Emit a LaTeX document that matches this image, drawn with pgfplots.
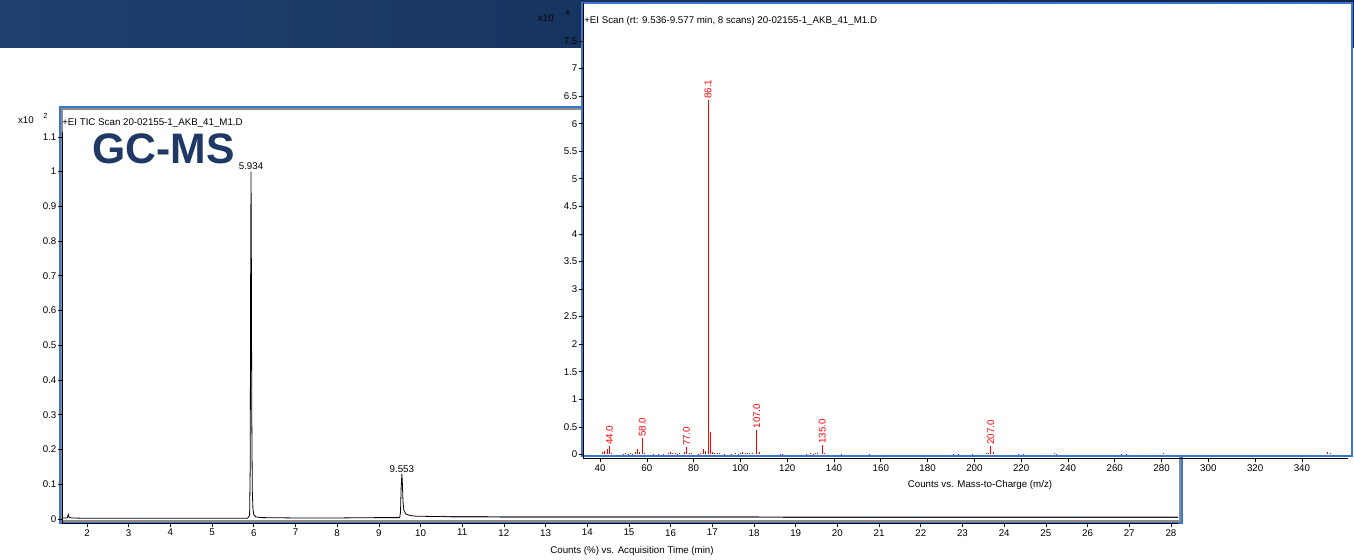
\documentclass[border=0pt]{standalone}
\usepackage{fontspec}
\setmainfont{Liberation Sans}
\usepackage{pgfplots}
\pgfplotsset{compat=1.18}
\definecolor{framebl}{RGB}{58,118,206}
\definecolor{navy}{RGB}{31,56,100}
\definecolor{banL}{RGB}{30,64,112}
\definecolor{banR}{RGB}{14,38,76}
\definecolor{shadowgray}{RGB}{140,140,140}
\newcommand{\smallfont}{\fontsize{7.3}{8.5}\selectfont}

\begin{document}
\begin{tikzpicture}
\useasboundingbox (0,0) rectangle (1015.5pt,420pt);
\fill[white] (0,0) rectangle (1015.5pt,420pt);

% slide banner and chromatogram frame (pixel-style coordinates, y downwards)
\begin{scope}[x=0.75pt,y=-0.75pt,yshift=420pt]
  \shade[left color=banL,right color=banR] (0,0) rectangle (1354,48);
  \draw[shadowgray, line width=1pt] (62,109) rectangle (1180,521);
  \draw[framebl, line width=2pt] (60,107) rectangle (1182,523);
\end{scope}

% total ion chromatogram
\begin{axis}[
  at={(46.5pt,27.75pt)}, anchor=south west, scale only axis,
  width=837pt, height=293.25pt,
  xmin=1.40, xmax=28.17, ymin=-0.0115, ymax=1.114,
  axis x line=bottom, axis y line=left,
  axis line style={-, black, line width=0.5pt},
  xtick={2,3,...,28},
  ytick={0,0.1,0.2,0.3,0.4,0.5,0.6,0.7,0.8,0.9,1,1.1},
  tick align=outside, major tick length=3pt,
  tick style={black, line width=0.5pt},
  tick label style={font=\smallfont},
  yticklabel style={inner sep=1pt},
  xticklabel style={inner sep=1.5pt},
  /pgf/number format/assume math mode=true,
  scaled ticks=false, clip=false,
]
\addplot[black, line width=0.6pt] coordinates {
  (1.42,0.003) (1.50,0.003) (1.53,0.004) (1.55,0.013) (1.57,0.005) (1.62,0.003)
  (2.0,0.002) (3,0.002) (4,0.002) (5,0.002) (5.85,0.002) (5.90,0.01)
  (5.915,0.15) (5.925,0.7) (5.934,1.0) (5.942,0.75) (5.952,0.3) (5.965,0.08)
  (5.98,0.03) (6.0,0.012) (6.05,0.006) (6.2,0.004) (7,0.003) (8,0.003)
  (9,0.004) (9.5,0.004) (9.52,0.02) (9.535,0.09) (9.553,0.13) (9.565,0.1)
  (9.58,0.05) (9.6,0.025) (9.65,0.014) (9.75,0.01) (9.9,0.008) (10.5,0.007)
};
\addplot[black!85, line width=0.9pt] coordinates {
  (10.5,0.007) (11,0.0065) (12,0.006) (14,0.006) (16,0.0055) (18,0.0055)
  (20,0.005) (22,0.005) (24,0.005) (26,0.005) (28.17,0.005)
};
\node[anchor=south, inner sep=1pt, font=\smallfont] at (axis cs:5.934,1.0) {5.934};
\node[anchor=south, inner sep=1pt, font=\smallfont] at (axis cs:9.553,0.13) {9.553};
\end{axis}

\begin{scope}[x=0.75pt,y=-0.75pt,yshift=420pt]
  \node[anchor=east, inner sep=0, font=\smallfont] at (34,120) {x10};
  \node[anchor=west, inner sep=0, font=\fontsize{5.5}{6}\selectfont] at (43,116) {2};
  \node[anchor=west, inner sep=0, font=\smallfont] at (62,123) {+EI TIC Scan 20-02155-1\_AKB\_41\_M1.D};
  \node[anchor=west, inner sep=0, text=navy, font=\fontsize{32}{36}\selectfont\bfseries] at (92,149) {GC-MS};
  \node[font=\smallfont] at (632,551) {Counts (\%) vs. Acquisition Time (min)};
  % mass spectrum panel
  \fill[white] (582,3) rectangle (1352,456);
  \draw[framebl, line width=2pt] (582,3) rectangle (1352,456);
\end{scope}

% EI mass spectrum at 9.553 min
\begin{axis}[
  at={(437.25pt,76.5pt)}, anchor=south west, scale only axis,
  width=573.75pt, height=341.25pt,
  xmin=32.7, xmax=359.7, ymin=-0.065, ymax=8.19,
  axis x line=bottom, axis y line=left,
  axis line style={-, black, line width=0.5pt},
  xtick={40,60,...,340},
  ytick={0,0.5,...,7.5},
  tick align=outside, major tick length=3pt,
  tick style={black, line width=0.5pt},
  tick label style={font=\smallfont},
  yticklabel style={inner sep=1pt},
  xticklabel style={inner sep=1.5pt},
  /pgf/number format/assume math mode=true,
  scaled ticks=false, clip=false,
]
\addplot[ycomb, red, line width=0.6pt, mark=none] coordinates {
  (41,0.04) (42,0.06) (43,0.09) (44,0.15) (45,0.02) (50,0.015) (51,0.02)
  (52,0.01) (53,0.02) (54,0.015) (55,0.04) (56,0.09) (57,0.05) (58,0.30)
  (59,0.03) (63,0.01) (65,0.015) (67,0.01) (69,0.02) (70,0.04) (71,0.03)
  (72,0.03) (73,0.01) (74,0.02) (76,0.04) (77,0.13) (78,0.03) (79,0.02)
  (82,0.01) (83,0.02) (84,0.10) (85,0.06) (86.1,6.43) (87.1,0.41) (88,0.05)
  (89,0.03) (90,0.02) (91,0.03) (93,0.01) (96,0.015) (98,0.02) (99,0.015)
  (100,0.03) (101,0.04) (102,0.02) (103,0.02) (104,0.03) (105,0.02)
  (107,0.45) (108,0.05) (117,0.01) (118,0.015) (128,0.015) (130,0.02)
  (131,0.015) (132,0.02) (133,0.02) (135,0.17) (136,0.03) (143,0.005)
  (155,0.005) (191,0.015) (193,0.01) (199,0.01) (205,0.02) (206,0.03)
  (207,0.15) (208,0.04) (219,0.01) (221,0.01) (234,0.02) (235,0.01)
  (263,0.008) (265,0.008) (281,0.03) (351,0.05) (352,0.02)
};
\foreach \m/\h/\t in {44/0.15/44.0, 58/0.30/58.0, 77/0.13/77.0, 86.1/6.43/86.1,
                      107/0.45/107.0, 135/0.17/135.0, 207/0.15/207.0} {
  \edef\temp{\noexpand\node[red, rotate=90, anchor=west, inner sep=0.8pt, font=\noexpand\smallfont]
    at (axis cs:\m,\h) {\t};}
  \temp
}
\end{axis}

\begin{scope}[x=0.75pt,y=-0.75pt,yshift=420pt]
  \node[anchor=west, inner sep=0, font=\smallfont] at (584,21) {+EI Scan (rt: 9.536-9.577 min, 8 scans) 20-02155-1\_AKB\_41\_M1.D};
  \node[anchor=east, inner sep=0, font=\smallfont] at (554,18) {x10};
  \node[anchor=west, inner sep=0, font=\fontsize{5.5}{6}\selectfont] at (565,13) {4};
  \node[font=\smallfont] at (980,485) {Counts vs. Mass-to-Charge (m/z)};
\end{scope}
\end{tikzpicture}
\end{document}
